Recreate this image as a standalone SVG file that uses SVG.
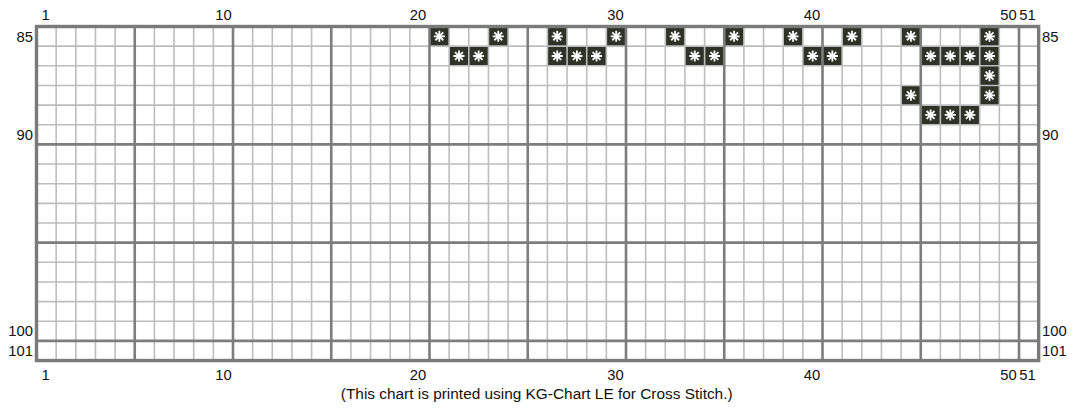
<svg xmlns="http://www.w3.org/2000/svg" xmlns:xlink="http://www.w3.org/1999/xlink" width="1074" height="408" viewBox="0 0 1074 408">
<style>
text{font-family:"Liberation Sans",Arial,sans-serif;font-size:14.8px;fill:#111}
.c{text-anchor:middle}
.r{text-anchor:end}
.thin{stroke:#bdbdbd;stroke-width:1.6;fill:none}
.thick{stroke:#7d7d7d;stroke-width:2.6;fill:none}
.border{stroke:#7a7a7a;stroke-width:3.4;fill:none}
.ast{stroke:#fff;stroke-width:1.8;stroke-linecap:butt}
</style>
<defs>
<g id="st">
<rect x="0" y="0" width="19.65" height="19.65" fill="#2f3327"/>
<path class="ast" d="M4.3 9.825H15.35M9.825 4.3V15.35M5.9 5.9L13.75 13.75M13.75 5.9L5.9 13.75"/>
</g>
</defs>
<rect width="1074" height="408" fill="#fff"/>
<g id="stitches">
<use xlink:href="#st" x="429.5" y="26.5"/>
<use xlink:href="#st" x="488.45" y="26.5"/>
<use xlink:href="#st" x="547.4" y="26.5"/>
<use xlink:href="#st" x="606.35" y="26.5"/>
<use xlink:href="#st" x="665.3" y="26.5"/>
<use xlink:href="#st" x="724.25" y="26.5"/>
<use xlink:href="#st" x="783.2" y="26.5"/>
<use xlink:href="#st" x="842.15" y="26.5"/>
<use xlink:href="#st" x="901.1" y="26.5"/>
<use xlink:href="#st" x="979.7" y="26.5"/>
<use xlink:href="#st" x="449.15" y="46.15"/>
<use xlink:href="#st" x="468.8" y="46.15"/>
<use xlink:href="#st" x="547.4" y="46.15"/>
<use xlink:href="#st" x="567.05" y="46.15"/>
<use xlink:href="#st" x="586.7" y="46.15"/>
<use xlink:href="#st" x="684.95" y="46.15"/>
<use xlink:href="#st" x="704.6" y="46.15"/>
<use xlink:href="#st" x="802.85" y="46.15"/>
<use xlink:href="#st" x="822.5" y="46.15"/>
<use xlink:href="#st" x="920.75" y="46.15"/>
<use xlink:href="#st" x="940.4" y="46.15"/>
<use xlink:href="#st" x="960.05" y="46.15"/>
<use xlink:href="#st" x="979.7" y="46.15"/>
<use xlink:href="#st" x="979.7" y="65.8"/>
<use xlink:href="#st" x="901.1" y="85.45"/>
<use xlink:href="#st" x="979.7" y="85.45"/>
<use xlink:href="#st" x="920.75" y="105.1"/>
<use xlink:href="#st" x="940.4" y="105.1"/>
<use xlink:href="#st" x="960.05" y="105.1"/>
</g>
<g id="grid">
<path class="thin" d="M56.15 26.5V360.55M75.8 26.5V360.55M95.45 26.5V360.55M115.1 26.5V360.55M154.4 26.5V360.55M174.05 26.5V360.55M193.7 26.5V360.55M213.35 26.5V360.55M252.65 26.5V360.55M272.3 26.5V360.55M291.95 26.5V360.55M311.6 26.5V360.55M350.9 26.5V360.55M370.55 26.5V360.55M390.2 26.5V360.55M409.85 26.5V360.55M449.15 26.5V360.55M468.8 26.5V360.55M488.45 26.5V360.55M508.1 26.5V360.55M547.4 26.5V360.55M567.05 26.5V360.55M586.7 26.5V360.55M606.35 26.5V360.55M645.65 26.5V360.55M665.3 26.5V360.55M684.95 26.5V360.55M704.6 26.5V360.55M743.9 26.5V360.55M763.55 26.5V360.55M783.2 26.5V360.55M802.85 26.5V360.55M842.15 26.5V360.55M861.8 26.5V360.55M881.45 26.5V360.55M901.1 26.5V360.55M940.4 26.5V360.55M960.05 26.5V360.55M979.7 26.5V360.55M999.35 26.5V360.55M1038.65 26.5V360.55
M36.5 46.15H1038.65M36.5 65.8H1038.65M36.5 85.45H1038.65M36.5 105.1H1038.65M36.5 124.75H1038.65M36.5 164.05H1038.65M36.5 183.7H1038.65M36.5 203.35H1038.65M36.5 223H1038.65M36.5 262.3H1038.65M36.5 281.95H1038.65M36.5 301.6H1038.65M36.5 321.25H1038.65"/>
<path class="thick" d="M134.75 26.5V360.55M233 26.5V360.55M331.25 26.5V360.55M429.5 26.5V360.55M527.75 26.5V360.55M626 26.5V360.55M724.25 26.5V360.55M822.5 26.5V360.55M920.75 26.5V360.55M1019 26.5V360.55
M36.5 144.4H1038.65M36.5 242.65H1038.65M36.5 340.9H1038.65"/>
<rect class="border" x="36.5" y="26.5" width="1002.15" height="334.05"/>
</g>
<g id="col-labels-top">
<text class="c" x="45.5" y="20">1</text>
<text class="c" x="223.5" y="20">10</text>
<text class="c" x="418" y="20">20</text>
<text class="c" x="615.5" y="20">30</text>
<text class="c" x="812" y="20">40</text>
<text class="c" x="1008.5" y="20">50</text>
<text class="c" x="1027.5" y="20">51</text>
</g>
<g id="col-labels-bottom">
<text class="c" x="45.5" y="380">1</text>
<text class="c" x="223.5" y="380">10</text>
<text class="c" x="418" y="380">20</text>
<text class="c" x="615.5" y="380">30</text>
<text class="c" x="812" y="380">40</text>
<text class="c" x="1008.5" y="380">50</text>
<text class="c" x="1027.5" y="380">51</text>
</g>
<g id="row-labels-left">
<text class="r" x="33" y="41.8">85</text>
<text class="r" x="33" y="139.8">90</text>
<text class="r" x="33" y="336.3">100</text>
<text class="r" x="33" y="356">101</text>
</g>
<g id="row-labels-right">
<text x="1042" y="41.8">85</text>
<text x="1042" y="139.8">90</text>
<text x="1042" y="336.3">100</text>
<text x="1042" y="356">101</text>
</g>
<text id="footer" class="c" x="536.7" y="399" style="font-size:15.4px">(This chart is printed using KG-Chart LE for Cross Stitch.)</text>
</svg>
